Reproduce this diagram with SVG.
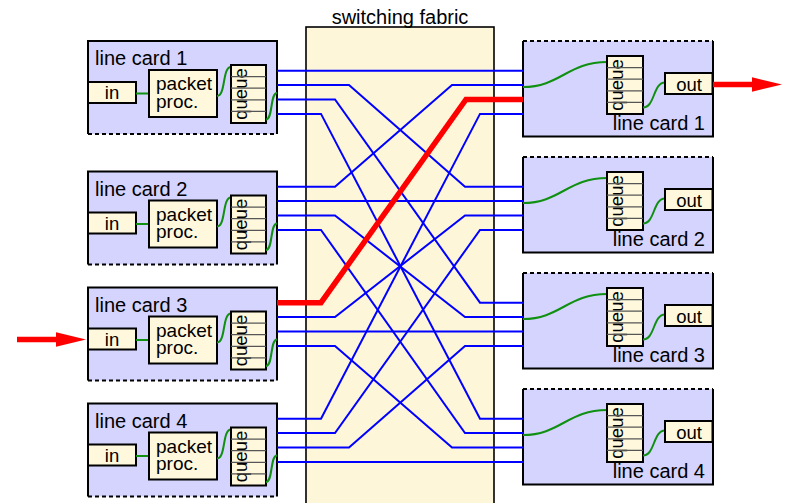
<svg xmlns="http://www.w3.org/2000/svg" width="788" height="503" viewBox="0 0 788 503">
<style>
text{font-family:"Liberation Sans",Arial,sans-serif;fill:#000}
.lbl{font-size:20px}
.t{font-size:19px}
.s{font-size:18.5px}
.cardfill{fill:#d4d4ff;stroke:none}
.bd{fill:none;stroke:#000;stroke-width:2}
.dash{fill:none;stroke:#000;stroke-width:2;stroke-dasharray:4,3}
.box{fill:#fff8dc;stroke:#000;stroke-width:2}
.div{stroke:#555;stroke-width:1.3}
.g{fill:none;stroke:#109010;stroke-width:2}
.blue{fill:none;stroke:#0000ff;stroke-width:2}
.red{fill:none;stroke:#ff0000;stroke-width:5.5}
</style>
<defs>
<g id="lcbody">
<rect class="cardfill" x="88" y="0" width="189" height="93"/>
<path class="bd" d="M88,93 V0 H277 V93"/>
<path class="dash" d="M88,93 H277"/>
<rect class="box" x="88" y="41" width="48" height="21"/>
<text class="s" x="112" y="58" text-anchor="middle">in</text>
<path class="g" d="M136,52.5 H149"/>
<rect class="box" x="149" y="29" width="68" height="47"/>
<text class="t" x="156" y="49">packet</text>
<text class="t" x="156" y="66.5">proc.</text>
<path class="g" d="M217,55 C226,55 222,26 231,26"/>
<rect class="box" x="231" y="24" width="35" height="58"/>
<text class="s" transform="translate(246.5,53) rotate(-90)" text-anchor="middle">queue</text>
<path class="div" d="M231,35.6 H266 M231,47.2 H266 M231,58.8 H266 M231,70.4 H266"/>
<path class="g" d="M266,78.5 C273,78.5 270,52 277,52"/>
</g>
<g id="rcbody">
<rect class="cardfill" x="523" y="0" width="190" height="95.5"/>
<path class="bd" d="M523,0 V95.5 H713 V0"/>
<path class="dash" d="M523,0 H713"/>
<path class="g" d="M523,46 C560,46 568,21 607,21"/>
<rect class="box" x="607" y="15" width="36" height="58"/>
<text class="s" transform="translate(622.5,44) rotate(-90)" text-anchor="middle">queue</text>
<path class="div" d="M607,26.6 H643 M607,38.2 H643 M607,49.8 H643 M607,61.4 H643"/>
<path class="g" d="M643,66.5 C655,66.5 653,41.5 665,41.5"/>
<rect class="box" x="665" y="32" width="47.5" height="21"/>
<text class="s" x="689" y="49.5" text-anchor="middle">out</text>
</g>
</defs>

<g id="fabric">
<rect x="306" y="27" width="188" height="490" fill="#fdf6d9" stroke="#000" stroke-width="1.6"/>
<text class="lbl" x="400" y="24" text-anchor="middle">switching fabric</text>
</g>

<g id="line-card-in-1" transform="translate(0,41)"><use href="#lcbody"/><text class="lbl" x="95" y="24">line card 1</text></g>
<g id="line-card-in-2" transform="translate(0,171.5)"><use href="#lcbody"/><text class="lbl" x="95" y="24">line card 2</text></g>
<g id="line-card-in-3" transform="translate(0,287.5)"><use href="#lcbody"/><text class="lbl" x="95" y="24">line card 3</text></g>
<g id="line-card-in-4" transform="translate(0,403.5)"><use href="#lcbody"/><text class="lbl" x="95" y="24">line card 4</text></g>

<g id="line-card-out-1" transform="translate(0,41)"><use href="#rcbody"/><text class="lbl" x="705" y="89" text-anchor="end">line card 1</text></g>
<g id="line-card-out-2" transform="translate(0,157)"><use href="#rcbody"/><text class="lbl" x="705" y="89" text-anchor="end">line card 2</text></g>
<g id="line-card-out-3" transform="translate(0,273)"><use href="#rcbody"/><text class="lbl" x="705" y="89" text-anchor="end">line card 3</text></g>
<g id="line-card-out-4" transform="translate(0,389)"><use href="#rcbody"/><text class="lbl" x="705" y="89" text-anchor="end">line card 4</text></g>

<g id="connectors">
<path class="blue" d="M277,70.7 H523"/>
<path class="blue" d="M277,85.1 H349 L465,186.7 H523"/>
<path class="blue" d="M277,99.5 H335 L480,302.7 H523"/>
<path class="blue" d="M277,113.9 H321 L480,418.7 H523"/>
<path class="blue" d="M277,186.7 H335 L452,85.1 H523"/>
<path class="blue" d="M277,201.1 H523"/>
<path class="blue" d="M277,215.5 H335 L465,317.1 H523"/>
<path class="blue" d="M277,229.9 H321 L465,433.1 H523"/>
<path class="blue" d="M277,317.1 H335 L465,215.5 H523"/>
<path class="blue" d="M277,331.5 H523"/>
<path class="blue" d="M277,345.9 H335 L452,447.5 H523"/>
<path class="blue" d="M277,418.7 H321 L480,113.9 H523"/>
<path class="blue" d="M277,433.1 H335 L480,229.9 H523"/>
<path class="blue" d="M277,447.5 H349 L465,345.9 H523"/>
<path class="blue" d="M277,461.9 H523"/>
<path class="red" d="M277,302.7 H321 L466,99.5 H523"/>
<path class="red" d="M17,339.5 H58"/>
<polygon points="56,332.3 86,339.5 56,346.7" fill="#ff0000"/>
<path class="red" d="M713,84.5 H754"/>
<polygon points="752,77.3 782,84.5 752,91.7" fill="#ff0000"/>
</g>
</svg>
